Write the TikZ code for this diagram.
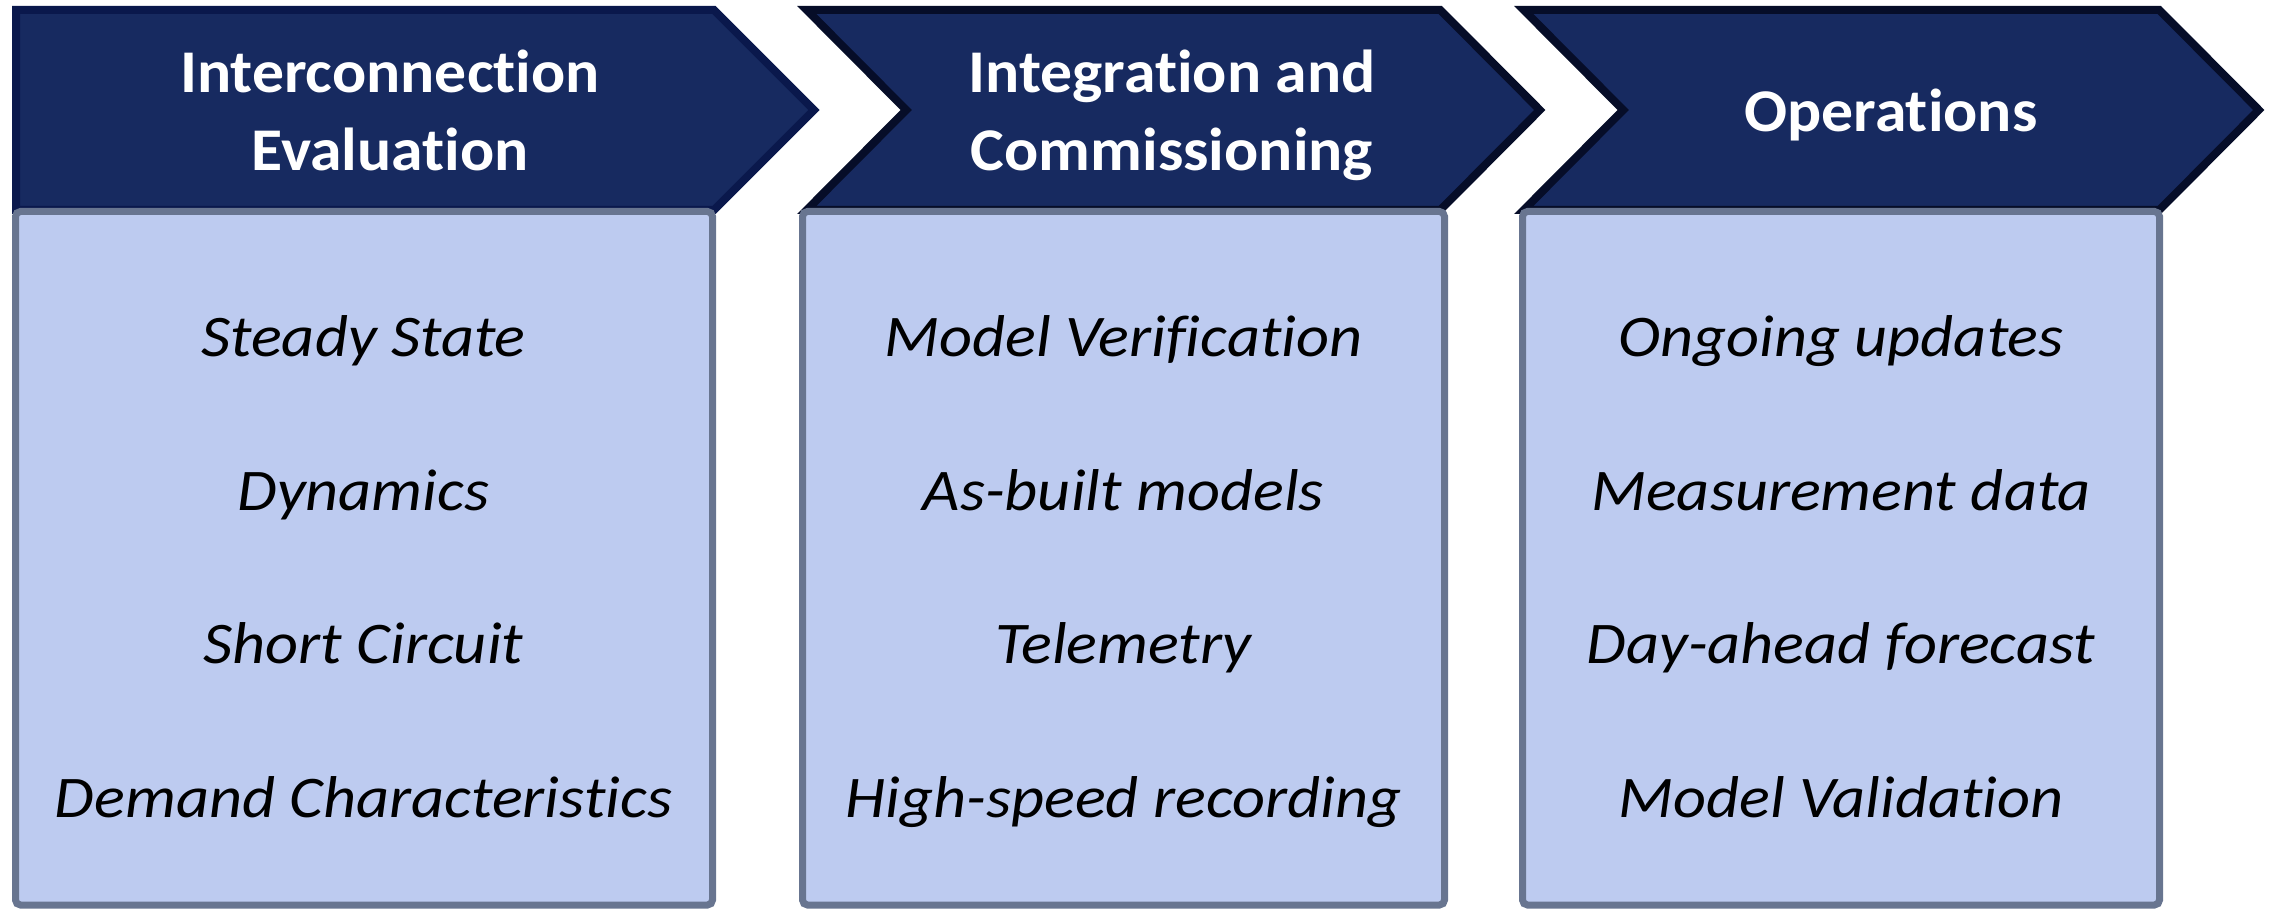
\documentclass[tikz,border=0pt]{standalone}
\usepackage{fontspec}
\setmainfont{Carlito}
\newfontfamily\bodyfont[FakeStretch=1.09,Ligatures={NoCommon,NoContextual},Contextuals=NoAlternate]{Carlito}
\newfontfamily\headfont[FakeStretch=1.05,Ligatures={NoCommon,NoContextual},Contextuals=NoAlternate]{Carlito}
\definecolor{navy}{RGB}{23,42,96}
\definecolor{edgeA}{RGB}{10,24,76}
\definecolor{edgeB}{RGB}{6,13,40}
\definecolor{boxfill}{RGB}{189,203,240}
\definecolor{boxedge}{RGB}{104,117,144}
\begin{document}
\begin{tikzpicture}[x=0.3pt,y=-0.3pt,
  chev/.style={fill=navy,draw=edgeB,line width=2.4pt,miter limit=10},
  panel/.style={fill=boxfill,draw=boxedge,line width=2.1pt,rounded corners=1.5pt},
  head/.style={text=white,font=\headfont\fontsize{18.2}{23.4}\selectfont\bfseries,align=center,inner sep=0pt,anchor=base},
  item/.style={font=\bodyfont\fontsize{17.7}{21}\selectfont\itshape,inner sep=0pt,anchor=base}]
\useasboundingbox (0,0) rectangle (2272,910);
% chevrons
\path[chev,draw=edgeA] (16,10) -- (714,10) -- (814,110) -- (714,210) -- (16,210) -- cycle;
\path[chev] (806.7,10) -- (1440.3,10) -- (1539.8,110) -- (1440.3,210) -- (806.7,210) -- (906.2,110) -- cycle;
\path[chev] (1523.7,10) -- (2159.3,10) -- (2258.8,110) -- (2159.3,210) -- (1523.7,210) -- (1623.2,110) -- cycle;
% panels
\path[panel] (15.5,211.5) rectangle (712.5,905);
\path[panel] (802.5,211.5) rectangle (1444.5,905);
\path[panel] (1522.5,211.5) rectangle (2159.5,905);
% headers
\node[head] (h1) at (390,171) {Interconnection\\Evaluation};
\node[head] (h2) at (1172,171) {Integration and\\Commissioning};
\node[head] (h3) at (1891,132) {Operations};
% items
\node[item] (a1) at (363.5,357) {Steady State};
\node[item] (a2) at (363.5,510.5) {Dynamics};
\node[item] (a3) at (363.5,664) {Short Circuit};
\node[item] (a4) at (363.5,817.5) {Demand Characteristics};
\node[item] (b1) at (1123.5,357) {Model Verification};
\node[item] (b2) at (1123.5,510.5) {As-built models};
\node[item] (b3) at (1123.5,664) {Telemetry};
\node[item] (b4) at (1123.5,817.5) {High-speed recording};
\node[item] (c1) at (1841,357) {Ongoing updates};
\node[item] (c2) at (1841,510.5) {Measurement data};
\node[item] (c3) at (1841,664) {Day-ahead forecast};
\node[item] (c4) at (1841,817.5) {Model Validation};
\end{tikzpicture}
\end{document}
